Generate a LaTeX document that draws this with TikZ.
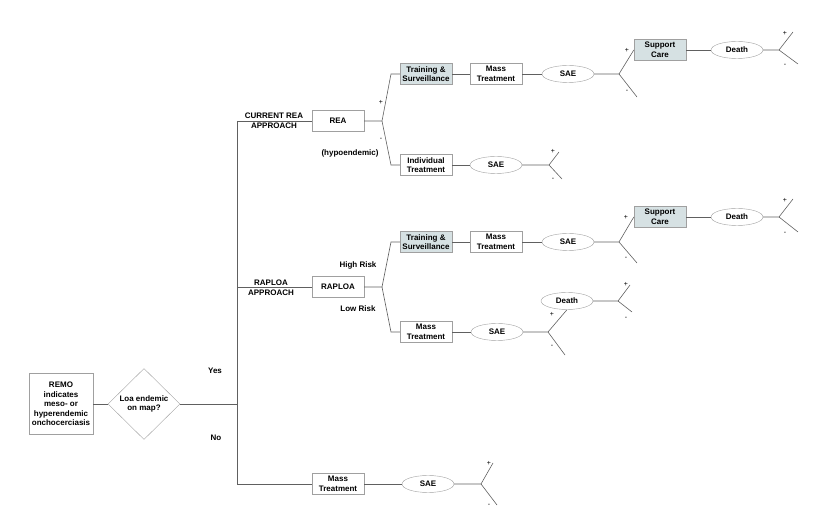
\documentclass[tikz,border=0pt]{standalone}
\usepackage{fontspec}
\setmainfont{Liberation Sans}
\usetikzlibrary{shapes.geometric}
\definecolor{careblue}{HTML}{D6E1E3}
\definecolor{edgegray}{HTML}{A0A0A0}
\definecolor{linkgray}{HTML}{606060}
\tikzset{box/.style = {draw=edgegray, rectangle, minimum width=52pt,
                       minimum height=21pt, inner sep=1pt, align=center}}
\tikzset{care/.style = {box, fill=careblue}}
\tikzset{chance/.style = {draw=edgegray, ellipse, minimum width=52pt,
                          minimum height=17pt, inner sep=0pt}}
\tikzset{link/.style = {draw=linkgray, line width=0.6pt}}
\tikzset{sign/.style = {font=\fontsize{7}{7}\selectfont, inner sep=0pt}}

\begin{document}
\begin{tikzpicture}[x=1pt, y=-1pt,
    every node/.style={font=\bfseries\fontsize{8}{9.6}\selectfont}]
    \useasboundingbox (0,0) rectangle (823,529);
    % start and question
    \node[box, minimum width=64pt, minimum height=61pt] (remo) at (61,404)
        {REMO\\indicates\\meso- or\\hyperendemic\\onchocerciasis};
    \node[diamond, draw=edgegray, minimum width=72pt, minimum height=71pt,
          inner sep=0pt, align=center] (loa) at (144,404) {Loa endemic\\on map?};
    \coordinate (ttop) at (237,121);
    \coordinate (tmid) at (237,287);
    \coordinate (tyes) at (237,404);
    \coordinate (tbot) at (237,484);
    \draw[link] (remo) -- (loa);
    \draw[link] (loa) -- (tyes);
    \draw[link] (ttop) -- (tbot);
    \node at (215,371) {Yes};
    \node at (216,438) {No};

    % current REA approach
    \node[box] (rea) at (338,121) {REA};
    \node[align=center] at (274,121) {CURRENT REA\\APPROACH};
    \node[care] (ts1) at (426,74) {Training \&\\Surveillance};
    \node[box] (mt1) at (496,74) {Mass\\Treatment};
    \node[chance] (sae1) at (568,74) {SAE};
    \node[care] (sc1) at (660,50) {Support\\Care};
    \node[chance] (death1) at (737,50) {Death};
    \node[box] (it) at (426,165) {Individual\\Treatment};
    \node[chance] (sae2) at (496,165) {SAE};
    \node at (350,153) {(hypoendemic)};
    \coordinate (fa) at (382,121);
    \coordinate (fa1) at (391,74);
    \coordinate (fa2) at (391,165);
    \coordinate (fb) at (619,74);
    \coordinate (fb2) at (637,97);
    \coordinate (fc) at (779,50);
    \coordinate (fc1) at (793,32);
    \coordinate (fc2) at (798,64);
    \coordinate (fd) at (549,165);
    \coordinate (fd1) at (559,152);
    \coordinate (fd2) at (562,179);
    \draw[link] (ttop) -- (rea);
    \draw[link] (rea) -- (fa) -- (fa1) -- (ts1);
    \draw[link] (fa) -- (fa2) -- (it);
    \draw[link] (ts1) -- (mt1);
    \draw[link] (mt1) -- (sae1);
    \draw[link] (sae1) -- (fb) -- (sc1.west);
    \draw[link] (fb) -- (fb2);
    \draw[link] (sc1) -- (death1);
    \draw[link] (death1) -- (fc) -- (fc1);
    \draw[link] (fc) -- (fc2);
    \draw[link] (it) -- (sae2);
    \draw[link] (sae2) -- (fd) -- (fd1);
    \draw[link] (fd) -- (fd2);

    % RAPLOA approach
    \node[box] (raploa) at (338,287) {RAPLOA};
    \node[align=center] at (271,288) {RAPLOA\\APPROACH};
    \node[care] (ts2) at (426,242) {Training \&\\Surveillance};
    \node[box] (mt2) at (496,242) {Mass\\Treatment};
    \node[chance] (sae3) at (568,242) {SAE};
    \node[care] (sc2) at (660,217) {Support\\Care};
    \node[chance] (death2) at (737,217) {Death};
    \node[box] (mt3) at (426,332) {Mass\\Treatment};
    \node[chance] (sae4) at (497,332) {SAE};
    \node[chance] (death3) at (567,301) {Death};
    \node at (358,265) {High Risk};
    \node at (358,309) {Low Risk};
    \coordinate (fe) at (382,287);
    \coordinate (fe1) at (391,242);
    \coordinate (fe2) at (391,332);
    \coordinate (ff) at (619,242);
    \coordinate (ff2) at (637,263);
    \coordinate (fg) at (779,217);
    \coordinate (fg1) at (793,199);
    \coordinate (fg2) at (798,232);
    \coordinate (fh) at (548,332);
    \coordinate (fh2) at (565,355);
    \coordinate (fi) at (618,301);
    \coordinate (fi1) at (630,285);
    \coordinate (fi2) at (632,312);
    \draw[link] (tmid) -- (raploa);
    \draw[link] (raploa) -- (fe) -- (fe1) -- (ts2);
    \draw[link] (fe) -- (fe2) -- (mt3);
    \draw[link] (ts2) -- (mt2);
    \draw[link] (mt2) -- (sae3);
    \draw[link] (sae3) -- (ff) -- (sc2.west);
    \draw[link] (ff) -- (ff2);
    \draw[link] (sc2) -- (death2);
    \draw[link] (death2) -- (fg) -- (fg1);
    \draw[link] (fg) -- (fg2);
    \draw[link] (mt3) -- (sae4);
    \draw[link] (sae4) -- (fh) -- (death3.south);
    \draw[link] (fh) -- (fh2);
    \draw[link] (death3) -- (fi) -- (fi1);
    \draw[link] (fi) -- (fi2);

    % no loa
    \node[box] (mt4) at (338,484) {Mass\\Treatment};
    \node[chance] (sae5) at (428,484) {SAE};
    \coordinate (fj) at (481,484);
    \coordinate (fj1) at (493,463);
    \coordinate (fj2) at (497,505);
    \draw[link] (tbot) -- (mt4);
    \draw[link] (mt4) -- (sae5);
    \draw[link] (sae5) -- (fj) -- (fj1);
    \draw[link] (fj) -- (fj2);

    % branch signs
    \foreach \x/\y/\s in {381/102/+, 381/139/-, 627/50/+, 627/91/-,
                          785/33/+, 785/65/-, 553/151/+, 553/179/-,
                          626/217/+, 626/258/-, 785/200/+, 785/233/-,
                          552/314/+, 552/346/-, 626/284/+, 626/318/-,
                          489/463/+, 489/505/-} {
        \node[sign] at (\x,\y) {\s};
    }
\end{tikzpicture}
\end{document}
